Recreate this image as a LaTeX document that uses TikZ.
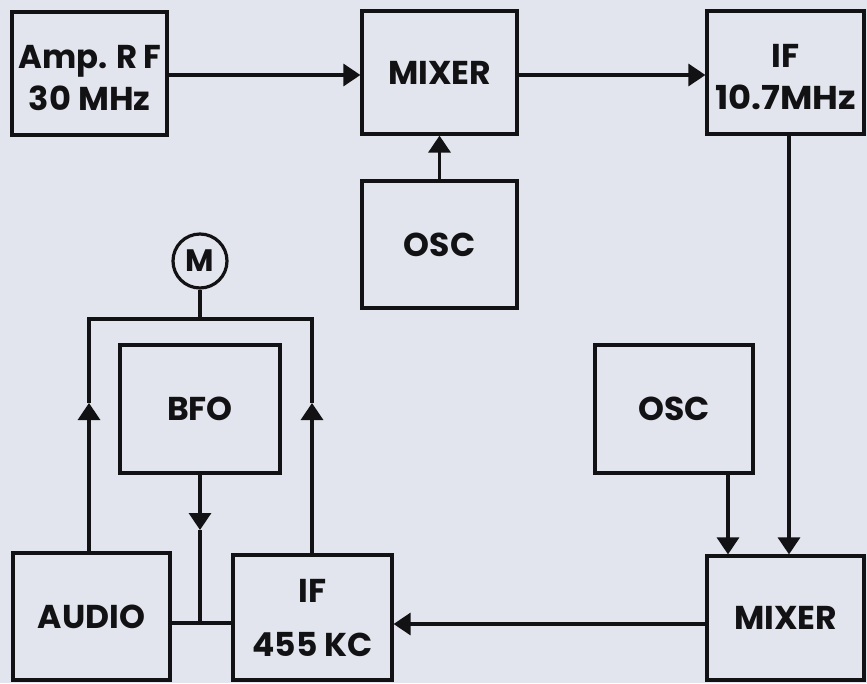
\documentclass[tikz,border=0pt]{standalone}
\usepackage{fontspec}
\setmainfont{Poppins}
\usetikzlibrary{arrows.meta}
\definecolor{paper}{RGB}{226,229,237}
\definecolor{ink}{RGB}{18,18,20}
\newcommand{\widetxt}[2]{\scalebox{#1}[1]{#2}}
\begin{document}
\begin{tikzpicture}[x=1pt,y=-1pt,
  blk/.style={draw=ink, line width=3.2pt, inner sep=0pt, align=center,
    font=\fontsize{33}{42}\selectfont\bfseries, text=ink},
  wire/.style={draw=ink, line width=3.2pt},
  arr/.style={wire, -{Triangle[width=22pt,length=17pt]}}]
\fill[paper] (0,0) rectangle (867,683);
\useasboundingbox (0,0) rectangle (867,683);
% boxes
\node[blk, minimum width=155pt, minimum height=123pt] (rf)   at (89.5,73.5)  {\rule{0pt}{32pt}\widetxt{0.98}{Amp. R\,F}\\\widetxt{1.02}{30 MHz}};
\node[blk, minimum width=155pt, minimum height=123pt] (mixa) at (439.5,72.5) {MIXER};
\node[blk, minimum width=157pt, minimum height=123pt] (ifa)  at (785.5,72.5) {\rule{0pt}{32pt}IF\\\widetxt{1.07}{10.7MHz}};
\node[blk, minimum width=155pt, minimum height=127pt] (osca) at (439.5,244.5) {OSC};
\node[blk, circle, minimum size=54pt, font=\fontsize{31}{31}\selectfont\bfseries] (m) at (200,261) {M};
\node[blk, minimum width=160pt, minimum height=128pt] (bfo)  at (200,409)   {BFO};
\node[blk, minimum width=158pt, minimum height=128pt] (oscb) at (674,409)   {OSC};
\node[blk, minimum width=157pt, minimum height=127pt] (aud)  at (91.5,616.5) {AUDIO};
\node[blk, minimum width=159pt, minimum height=125pt] (ifb)  at (312.5,617.5) {IF\\[12pt]455 KC};
\node[blk, minimum width=157pt, minimum height=124pt] (mixb) at (785.5,618)  {MIXER};
% helper points
\coordinate (tl) at (89,319);
\coordinate (tr) at (312,319);
\coordinate (tm) at (200,319);
\coordinate (al) at (89,403);
\coordinate (ar) at (312,403);
\coordinate (jn) at (200,623);
\coordinate (ab) at (200,530);
% connectors
\draw[arr] (rf.east |- 0,75) -- (mixa.west |- 0,75);
\draw[arr] (mixa.east |- 0,75) -- (ifa.west |- 0,75);
\draw[arr] (osca.north) -- (mixa.south);
\draw[arr] (ifa.south -| 789,0) -- (mixb.north -| 789,0);
\draw[arr] (oscb.south -| 728,0) -- (mixb.north -| 728,0);
\draw[arr] (mixb.west |- 0,624) -- (ifb.east |- 0,624);
\draw[wire] (aud.east |- jn) -- (ifb.west |- jn);
\draw[arr] (bfo.south) -- (ab);
\draw[wire] (ab) -- (jn);
\draw[arr] (aud.north -| al) -- (al);
\draw[arr] (ifb.north -| ar) -- (ar);
\draw[wire] (al) -- (tl) -- (tr) -- (ar);
\draw[wire] (m.south) -- (tm);
\end{tikzpicture}
\end{document}
